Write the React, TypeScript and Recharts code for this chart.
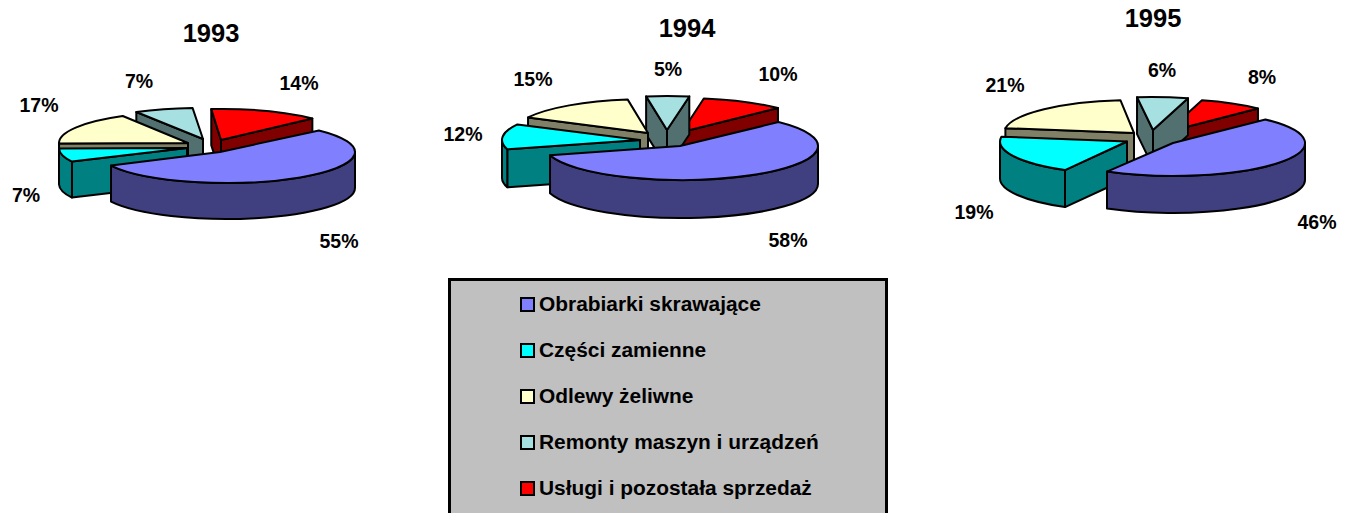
import { PieChart, Pie } from "recharts";

const CATEGORIES = [
  "Obrabiarki skrawające",
  "Części zamienne",
  "Odlewy żeliwne",
  "Remonty maszyn i urządzeń",
  "Usługi i pozostała sprzedaż",
];

const VALUES_1993 = [55, 7, 17, 7, 14];
const VALUES_1994 = [58, 12, 15, 5, 10];
const VALUES_1995 = [46, 19, 21, 6, 8];

const TOP_COLORS = ["#8080FF", "#00FFFF", "#FFFFCC", "#A6E0E0", "#FF0000"];
const WALL_COLORS = ["#404080", "#008080", "#808066", "#527070", "#800000"];

const FONT = '"Liberation Sans", Arial, sans-serif';

// position of each pie on the page, slices are pulled apart by hand like in the original
// explode: [dx, dy, radius of that slice, shift of its rim] - the old chart had perspective
const PIES = [
  {
    year: "1993",
    values: VALUES_1993,
    cx: 220,
    cy: 152,
    rx: 135,
    ry: 31,
    depth: 36,
    start: 44,
    titleX: 211,
    titleY: 33,
    explode: [[0, 0, 128.5, 6.5], [-33, -4, 128, 0], [-32, -9, 126, -3], [-17, -13, 135, 0], [1, -12, 127, 0]],
    labels: [[339, 241], [26, 195], [39, 105], [139, 81], [299, 83]],
  },
  {
    year: "1994",
    values: VALUES_1994,
    cx: 680,
    cy: 146,
    rx: 138,
    ry: 34,
    depth: 38,
    start: 44.7,
    titleX: 687,
    titleY: 28,
    explode: [[0, 0, 136.6, 1.4], [-40, -6, 138, 0], [-32, -13, 135, 0], [-13, -16, 138, 0], [2, -14, 135, 0]],
    labels: [[788, 240], [463, 134], [533, 79], [668, 69], [778, 74]],
  },
  {
    year: "1995",
    values: VALUES_1995,
    cx: 1173,
    cy: 143,
    rx: 132,
    ry: 33,
    depth: 37,
    start: 45.6,
    titleX: 1153,
    titleY: 18,
    explode: [[0, 0, 132, 0], [-46, -1.5, 130, 3], [-39, -10, 130, 0], [-20, -13, 136.5, -1.7], [-6, -11, 130, 0]],
    labels: [[1317, 222], [974, 212], [1005, 85], [1162, 70], [1262, 77]],
  },
];

const RAD = Math.PI / 180;

/* flattened slice with walls, the library only hands us the angles */
function Slice3D(props: any) {
  const { startAngle, endAngle, name, pie } = props;
  const i = CATEGORIES.indexOf(name);
  const [ox, oy, rx, shift] = pie.explode[i];
  const x0 = pie.cx + ox;
  const y0 = pie.cy + oy;
  const ry = pie.ry;
  const d = pie.depth;
  const a1 = Math.min(startAngle, endAngle);
  const a2 = Math.max(startAngle, endAngle);

  const px = (a: number) => x0 + shift + rx * Math.cos(a * RAD);
  const py = (a: number) => y0 - ry * Math.sin(a * RAD);

  const radial = (a: number) =>
    `M${x0},${y0} L${px(a)},${py(a)} L${px(a)},${py(a) + d} L${x0},${y0 + d} Z`;

  // the part of the rim that looks to the viewer: 180..360 and 540..720
  const rims: string[] = [];
  [-180, 180, 540].forEach((lo) => {
    const from = Math.max(a1, lo);
    const to = Math.min(a2, lo + 180);
    if (to > from) {
      rims.push(
        `M${px(from)},${py(from)} A${rx},${ry} 0 0 0 ${px(to)},${py(to)} ` +
          `L${px(to)},${py(to) + d} A${rx},${ry} 0 0 1 ${px(from)},${py(from) + d} Z`
      );
    }
  });

  const large = a2 - a1 > 180 ? 1 : 0;
  const top =
    `M${x0},${y0} L${px(a1)},${py(a1)} ` +
    `A${rx},${ry} 0 ${large} 0 ${px(a2)},${py(a2)} Z`;

  const line = { stroke: "#000", strokeWidth: 2, strokeLinejoin: "round" as const };

  return (
    <g>
      {Math.cos(a1 * RAD) > 0 && <path d={radial(a1)} fill={WALL_COLORS[i]} {...line} />}
      {Math.cos(a2 * RAD) < 0 && <path d={radial(a2)} fill={WALL_COLORS[i]} {...line} />}
      {rims.map((r, k) => (
        <path key={k} d={r} fill={WALL_COLORS[i]} {...line} />
      ))}
      <path d={top} fill={TOP_COLORS[i]} {...line} />
    </g>
  );
}

function renderLabel(props: any, pie: any) {
  const i = CATEGORIES.indexOf(props.name);
  const [x, y] = pie.labels[i];
  return (
    <text
      x={x}
      y={y}
      textAnchor="middle"
      dominantBaseline="central"
      fontFamily={FONT}
      fontWeight="bold"
      fontSize={19.5}
      fill="#000"
    >
      {pie.values[i]}%
    </text>
  );
}

function LegendBox() {
  return (
    <div
      style={{
        position: "absolute",
        left: 448,
        top: 278,
        width: 434,
        height: 260,
        background: "#C0C0C0",
        border: "3px solid #000",
      }}
    >
      {CATEGORIES.map((c, i) => (
        <div
          key={c}
          style={{
            position: "absolute",
            left: 69,
            top: 9 + i * 46,
            height: 28,
            display: "flex",
            alignItems: "center",
            whiteSpace: "nowrap",
            fontFamily: FONT,
            fontWeight: "bold",
            fontSize: 20.9,
            color: "#000",
          }}
        >
          <span
            style={{
              display: "inline-block",
              width: 11,
              height: 11,
              marginRight: 4,
              background: TOP_COLORS[i],
              border: "2px solid #000",
            }}
          />
          {c}
        </div>
      ))}
    </div>
  );
}

export default function App() {
  return (
    <div
      style={{
        position: "absolute",
        left: 0,
        top: 0,
        width: 1351,
        height: 513,
        overflow: "hidden",
        background: "#fff",
      }}
    >
      <PieChart width={1351} height={513} margin={{ top: 0, right: 0, bottom: 0, left: 0 }}>
        {PIES.map((pie) => {
          // back slices first so the big one ends up in front
          const rows = CATEGORIES.map((name, i) => ({ name, value: pie.values[i] })).reverse();
          return (
            <Pie
              key={pie.year}
              data={rows}
              dataKey="value"
              nameKey="name"
              cx={pie.cx}
              cy={pie.cy}
              innerRadius={0}
              outerRadius={pie.rx}
              startAngle={pie.start}
              endAngle={pie.start + 360}
              paddingAngle={0}
              isAnimationActive={false}
              labelLine={false}
              label={(p: any) => renderLabel(p, pie)}
              shape={(p: any) => <Slice3D {...p} pie={pie} />}
            />
          );
        })}
        {PIES.map((pie) => (
          <text
            key={pie.year}
            x={pie.titleX}
            y={pie.titleY}
            textAnchor="middle"
            dominantBaseline="central"
            fontFamily={FONT}
            fontWeight="bold"
            fontSize={25.5}
            fill="#000"
          >
            {pie.year}
          </text>
        ))}
      </PieChart>
      <LegendBox />
    </div>
  );
}
